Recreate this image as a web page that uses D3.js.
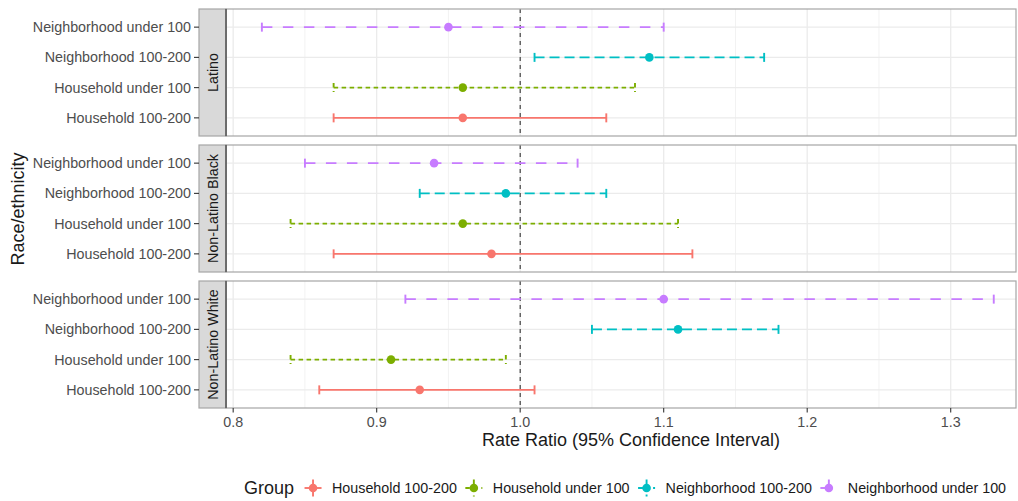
<!DOCTYPE html>
<html>
<head>
<meta charset="utf-8">
<script src="https://cdn.jsdelivr.net/npm/d3@7"></script>
<style>
  html, body { margin: 0; padding: 0; background: #fff; }
  svg { display: block; font-family: "Liberation Sans", Arial, sans-serif; }
</style>
</head>
<body>
<svg id="chart" width="1018" height="501"></svg>
<script>
// ---- data ----
const panels = ["Latino", "Non-Latino Black", "Non-Latino White"];
const groups = ["Household 100-200", "Household under 100", "Neighborhood 100-200", "Neighborhood under 100"];
const rowOrder = ["Neighborhood under 100", "Neighborhood 100-200", "Household under 100", "Household 100-200"];
const colors = ["#F8766D", "#7CAE00", "#00BFC4", "#C77CFF"];
const dashes = [null, "4.5,3.5", "10,5", "10.5,10.5"];
// estimates, lower, upper per panel, in order of `groups`
const estLatino = [0.96, 0.96, 1.09, 0.95];
const lowLatino = [0.87, 0.87, 1.01, 0.82];
const highLatino = [1.06, 1.08, 1.17, 1.10];
const estBlack = [0.98, 0.96, 0.99, 0.94];
const lowBlack = [0.87, 0.84, 0.93, 0.85];
const highBlack = [1.12, 1.11, 1.06, 1.04];
const estWhite = [0.93, 0.91, 1.11, 1.10];
const lowWhite = [0.86, 0.84, 1.05, 0.92];
const highWhite = [1.01, 0.99, 1.18, 1.33];
const xTicks = [0.8, 0.9, 1.0, 1.1, 1.2, 1.3];
const xMinor = [0.85, 0.95, 1.05, 1.15, 1.25];
const refValue = 1.0;

const panelData = [
  {name: panels[0], est: estLatino, lo: lowLatino, hi: highLatino},
  {name: panels[1], est: estBlack, lo: lowBlack, hi: highBlack},
  {name: panels[2], est: estWhite, lo: lowWhite, hi: highWhite}
];

// ---- layout ----
const svg = d3.select("#chart");
const px0 = 226, px1 = 1016;
const panelTops = [9, 145, 281];
const panelH = 127;
const stripX = 199, stripW = 27;
const fs = 14.3;
const legendFs = 14.3;
const titleFs = 18;

const x = d3.scaleLinear().domain([0.795, 1.3455]).range([px0, px1]);
const y = d3.scalePoint().domain(rowOrder).range([0, panelH]).padding(0.6);

const axisText = "#4D4D4D";
const titleText = "#1A1A1A";

panelData.forEach((p, pi) => {
  const top = panelTops[pi];
  const g = svg.append("g").attr("transform", `translate(0,${top})`);

  g.append("rect").attr("x", px0).attr("y", 0).attr("width", px1 - px0).attr("height", panelH).attr("fill", "#fff");

  g.selectAll(".minor").data(xMinor).enter().append("line")
    .attr("x1", d => x(d)).attr("x2", d => x(d)).attr("y1", 0).attr("y2", panelH)
    .attr("stroke", "#F2F2F2").attr("stroke-width", 1);
  g.selectAll(".majorx").data(xTicks).enter().append("line")
    .attr("x1", d => x(d)).attr("x2", d => x(d)).attr("y1", 0).attr("y2", panelH)
    .attr("stroke", "#EBEBEB").attr("stroke-width", 1.3);
  g.selectAll(".majory").data(rowOrder).enter().append("line")
    .attr("x1", px0).attr("x2", px1).attr("y1", d => y(d)).attr("y2", d => y(d))
    .attr("stroke", "#EBEBEB").attr("stroke-width", 1.3);

  g.append("line").attr("x1", x(refValue)).attr("x2", x(refValue)).attr("y1", 0).attr("y2", panelH)
    .attr("stroke", "#333").attr("stroke-width", 1.1).attr("stroke-dasharray", "4,4");

  const rows = groups.map((gr, i) => ({group: gr, i, est: p.est[i], lo: p.lo[i], hi: p.hi[i]}));
  const capH = 9;
  rows.forEach(r => {
    const yy = y(r.group);
    const eg = g.append("g").attr("stroke", colors[r.i]).attr("stroke-width", 1.9).attr("fill", "none")
      .attr("stroke-dasharray", dashes[r.i]);
    eg.append("line").attr("x1", x(r.lo)).attr("x2", x(r.hi)).attr("y1", yy).attr("y2", yy);
    eg.append("line").attr("x1", x(r.lo)).attr("x2", x(r.lo)).attr("y1", yy - capH / 2).attr("y2", yy + capH / 2);
    eg.append("line").attr("x1", x(r.hi)).attr("x2", x(r.hi)).attr("y1", yy - capH / 2).attr("y2", yy + capH / 2);
  });
  rows.forEach(r => {
    g.append("circle").attr("cx", x(r.est)).attr("cy", y(r.group)).attr("r", 4.3).attr("fill", colors[r.i]);
  });

  g.append("rect").attr("x", px0).attr("y", 0).attr("width", px1 - px0).attr("height", panelH)
    .attr("fill", "none").attr("stroke", "#A6A6A6").attr("stroke-width", 1.2);

  g.append("rect").attr("x", stripX).attr("y", 0).attr("width", stripW).attr("height", panelH)
    .attr("fill", "#D9D9D9").attr("stroke", "#A6A6A6").attr("stroke-width", 1.2);
  g.append("line").attr("x1", px0).attr("x2", px0).attr("y1", 0).attr("y2", panelH)
    .attr("stroke", "#4D4D4D").attr("stroke-width", 1.4);
  g.append("text")
    .attr("transform", `translate(${stripX + stripW / 2 + 5},${panelH / 2}) rotate(-90)`)
    .attr("text-anchor", "middle").attr("font-size", fs).attr("fill", titleText)
    .text(p.name);

  g.selectAll(".ytick").data(rowOrder).enter().append("line")
    .attr("x1", stripX - 5).attr("x2", stripX).attr("y1", d => y(d)).attr("y2", d => y(d))
    .attr("stroke", "#333").attr("stroke-width", 1.1);
  g.selectAll(".ylab").data(rowOrder).enter().append("text")
    .attr("x", stripX - 8).attr("y", d => y(d)).attr("dy", "0.35em")
    .attr("text-anchor", "end").attr("font-size", fs).attr("fill", axisText)
    .text(d => d);
});

// x axis (bottom panel)
const axisY = panelTops[2] + panelH;
const xa = svg.append("g").attr("transform", `translate(0,${axisY})`);
xa.selectAll(".xt").data(xTicks).enter().append("line")
  .attr("x1", d => x(d)).attr("x2", d => x(d)).attr("y1", 0).attr("y2", 4.5)
  .attr("stroke", "#333").attr("stroke-width", 1.1);
xa.selectAll(".xl").data(xTicks).enter().append("text")
  .attr("x", d => x(d)).attr("y", 19).attr("text-anchor", "middle")
  .attr("font-size", fs).attr("fill", axisText)
  .text(d => d3.format(".1f")(d));

// axis titles
svg.append("text").attr("x", 631).attr("y", 446).attr("text-anchor", "middle")
  .attr("font-size", titleFs).attr("fill", titleText).text("Rate Ratio (95% Confidence Interval)");
svg.append("text").attr("transform", `translate(24,209) rotate(-90)`).attr("text-anchor", "middle")
  .attr("font-size", titleFs).attr("fill", titleText).text("Race/ethnicity");

// legend
const ly = 488;
const lg = svg.append("g");
const gt = lg.append("text").attr("x", 244).attr("y", ly).attr("dy", "0.35em")
  .attr("font-size", titleFs).attr("fill", titleText).text("Group");
let cx = 244 + gt.node().getComputedTextLength() + 19;
groups.forEach((gr, i) => {
  const k = lg.append("g").attr("stroke", colors[i]).attr("stroke-width", 1.9).attr("stroke-dasharray", dashes[i]);
  k.append("line").attr("x1", cx - 8.5).attr("x2", cx + 8.5).attr("y1", ly).attr("y2", ly);
  k.append("line").attr("x1", cx).attr("x2", cx).attr("y1", ly - 8.5).attr("y2", ly + 8.5);
  lg.append("circle").attr("cx", cx).attr("cy", ly).attr("r", 4.3).attr("fill", colors[i]);
  const t = lg.append("text").attr("x", cx + 19).attr("y", ly).attr("dy", "0.35em")
    .attr("font-size", legendFs).attr("fill", titleText).text(gr);
  cx = cx + 19 + t.node().getComputedTextLength() + 17;
});
</script>
</body>
</html>
